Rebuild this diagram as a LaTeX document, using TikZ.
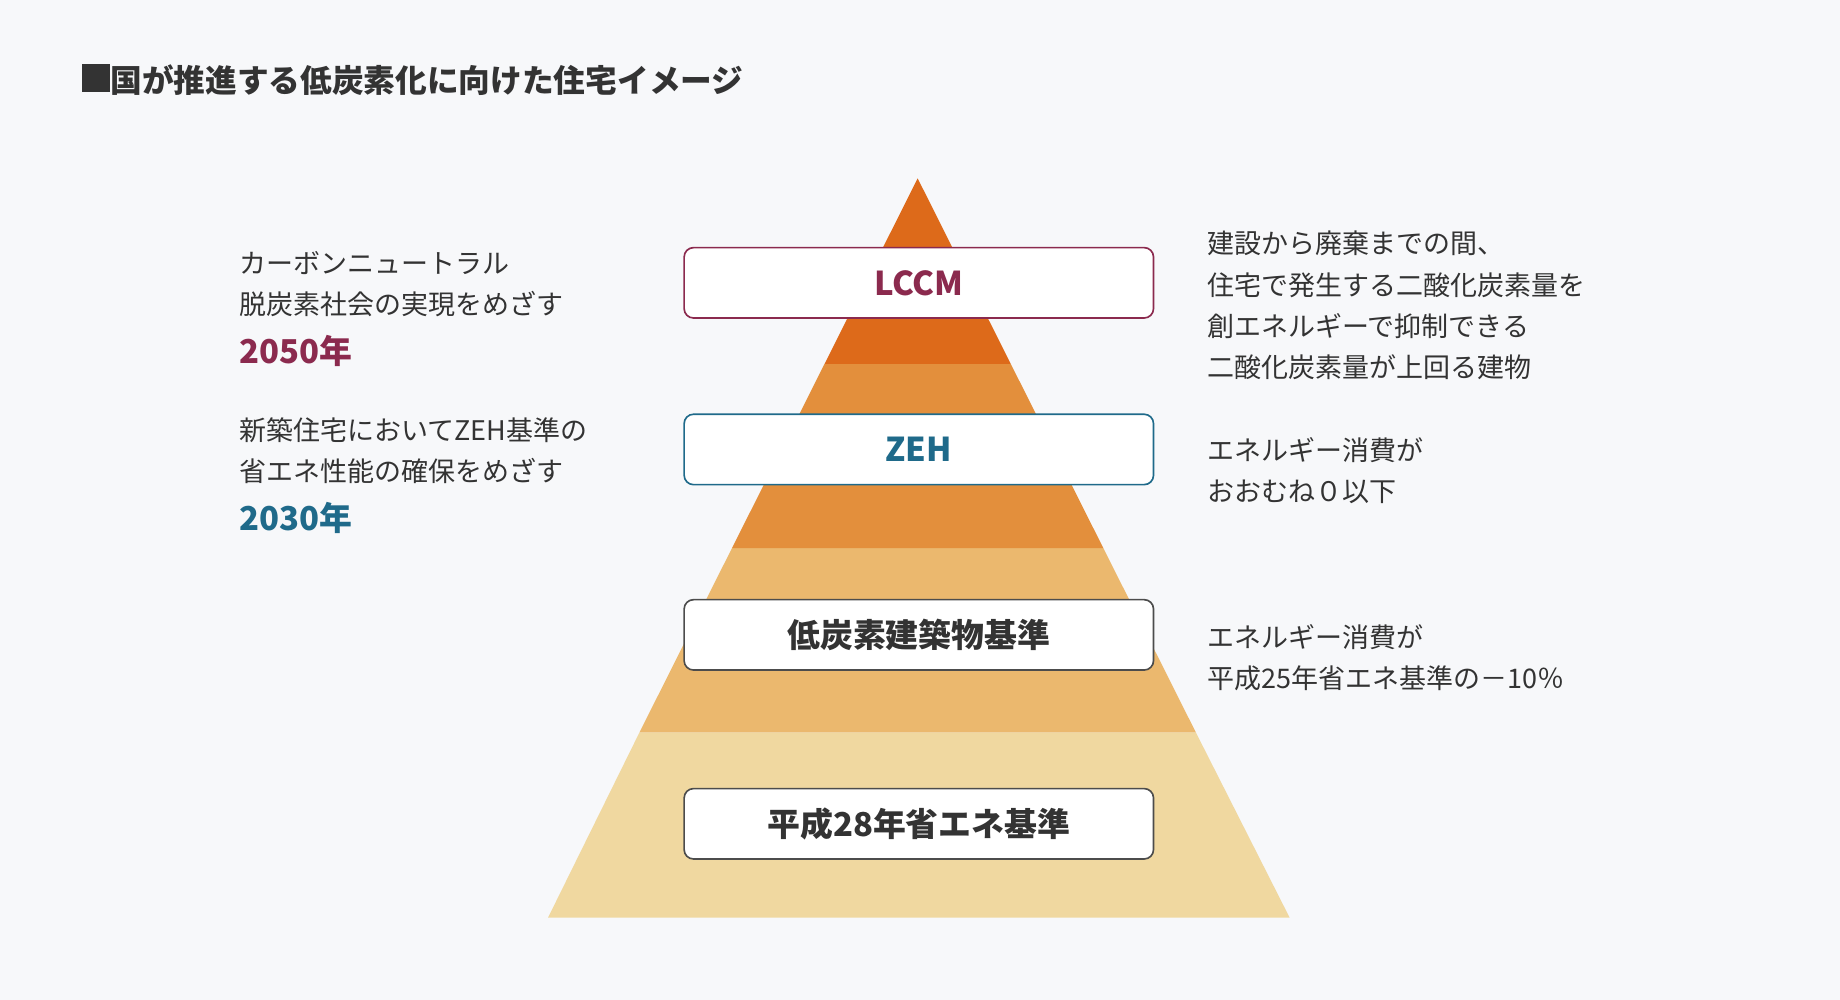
\documentclass[tikz,border=0pt]{standalone}
\usepackage{fontspec}
\setmainfont{Noto Sans CJK JP}
\begin{document}
\begin{tikzpicture}[x=0.5pt,y=-0.5pt,
  lbl/.style={draw,rounded corners=4pt,fill=white,line width=0.7pt,minimum width=200pt,minimum height=30pt,font=\fontsize{14}{16}\selectfont\bfseries,text=black!80},
  side/.style={anchor=north west,align=left,font=\fontsize{11.5}{17.5}\selectfont,text=black!80},
  year/.style={anchor=north west,font=\fontsize{14}{16}\selectfont\bfseries}]
\definecolor{bg}{HTML}{F7F8FA}
\definecolor{c1}{HTML}{DD6A1A}\definecolor{c2}{HTML}{E38F3C}
\definecolor{c3}{HTML}{EBB86E}\definecolor{c4}{HTML}{F0D8A0}
\definecolor{mar}{HTML}{8B2A4E}\definecolor{teal}{HTML}{1F6A8A}
\fill[bg] (0,0) rectangle (1568,852);
\useasboundingbox (0,0) rectangle (1568,852);
% pyramid bands, half width = (y-152)*316/630
\fill[c4] (467,782) -- (1099,782) -- (1019.0,624) -- (545.0,624) -- cycle;
\fill[c3] (545.0,624) -- (1019.0,624) -- (940.2,467) -- (623.8,467) -- cycle;
\fill[c2] (623.8,467) -- (940.2,467) -- (861.3,310) -- (702.7,310) -- cycle;
\fill[c1] (702.7,310) -- (861.3,310) -- (782,152) -- cycle;
\node[lbl,draw=mar,text=mar] (lccm) at (783,241) {LCCM};
\node[lbl,draw=teal,text=teal] (zeh) at (783,383) {ZEH};
\node[lbl,draw=black!70] (low) at (783,541) {低炭素建築物基準};
\node[lbl,draw=black!70] (h28) at (783,702) {平成28年省エネ基準};
% title
\node[anchor=west,font=\fontsize{13.5}{16}\selectfont\bfseries,text=black!80] (title) at (63,68) {\rule{12pt}{12pt}国が推進する低炭素化に向けた住宅イメージ};
% left
\node[side] (l1) at (197,207) {カーボンニュートラル\\脱炭素社会の実現をめざす};
\node[year,text=mar] (y1) at (197,279) {2050年};
\node[side] (l2) at (197,349) {新築住宅においてZEH基準の\\省エネ性能の確保をめざす};
\node[year,text=teal] (y2) at (197,421) {2030年};
% right
\node[side] (r1) at (1022,190) {建設から廃棄までの間、\\住宅で発生する二酸化炭素量を\\創エネルギーで抑制できる\\二酸化炭素量が上回る建物};
\node[side] (r2) at (1022,366) {エネルギー消費が\\おおむね０以下};
\node[side] (r3) at (1022,525) {エネルギー消費が\\平成25年省エネ基準の－10％};
\end{tikzpicture}
\end{document}
